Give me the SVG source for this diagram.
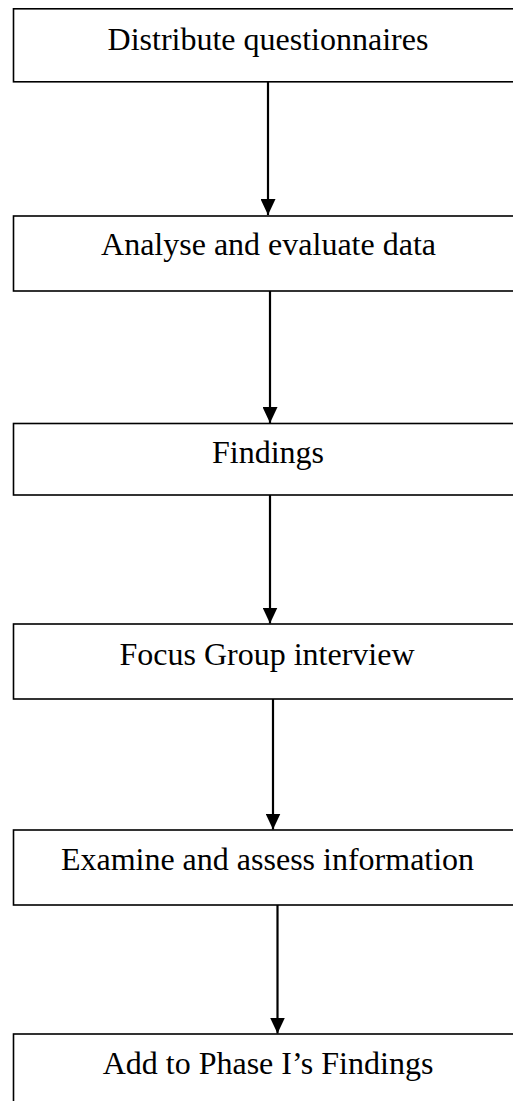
<svg xmlns="http://www.w3.org/2000/svg" width="513" height="1101" viewBox="0 0 513 1101">
<style>
.box{fill:#fff;stroke:#000;stroke-width:1.6}
.lbl{font-family:"Liberation Serif","Times New Roman",serif;font-size:32px;fill:#000;text-anchor:middle}
.conn{stroke:#000;stroke-width:2.2;fill:none;marker-end:url(#ah)}
</style>
<defs>
<marker id="ah" markerUnits="userSpaceOnUse" markerWidth="16" markerHeight="15" refX="16" refY="7.5" orient="auto">
<path d="M0,0 L16,7.5 L0,15 z" fill="#000"/>
</marker>
</defs>
<rect width="513" height="1101" fill="#fff"/>
<g id="n1"><rect class="box" x="13.5" y="8.8" width="510" height="73"/><text class="lbl" x="268" y="50">Distribute questionnaires</text></g>
<g id="n2"><rect class="box" x="13.5" y="216" width="510" height="75"/><text class="lbl" x="268.5" y="255">Analyse and evaluate data</text></g>
<g id="n3"><rect class="box" x="13.5" y="423.5" width="510" height="71.5"/><text class="lbl" x="268" y="463">Findings</text></g>
<g id="n4"><rect class="box" x="13.5" y="624" width="510" height="75"/><text class="lbl" x="267" y="665">Focus Group interview</text></g>
<g id="n5"><rect class="box" x="13.5" y="830" width="510" height="75"/><text class="lbl" x="267.5" y="870">Examine and assess information</text></g>
<g id="n6"><rect class="box" x="13.5" y="1034" width="510" height="80"/><text class="lbl" x="268" y="1074">Add to Phase I’s Findings</text></g>
<g id="connectors">
<line class="conn" x1="268" y1="82" x2="268" y2="215"/>
<line class="conn" x1="270" y1="291" x2="270" y2="423"/>
<line class="conn" x1="270" y1="495" x2="270" y2="623.5"/>
<line class="conn" x1="273" y1="699" x2="273" y2="829.5"/>
<line class="conn" x1="277.5" y1="905" x2="277.5" y2="1033.5"/>
</g>
</svg>
